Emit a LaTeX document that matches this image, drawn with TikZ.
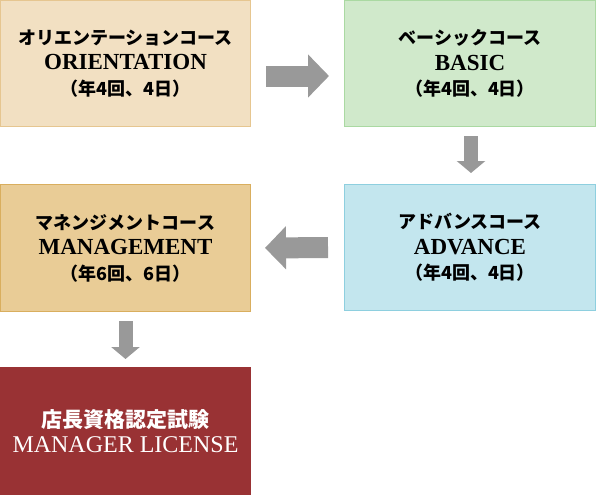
\documentclass[tikz,border=0pt]{standalone}
\usepackage{fontspec}
\setmainfont{Liberation Serif}
\newfontfamily\jpfont{Noto Sans CJK JP}
\usepackage{xcolor}
\usepackage{tikz}
\usetikzlibrary{arrows.meta}
\definecolor{orientfill}{HTML}{F2E0C2}
\definecolor{orientline}{HTML}{E6C690}
\definecolor{basicfill}{HTML}{D0E9CB}
\definecolor{basicline}{HTML}{AAD9A2}
\definecolor{advfill}{HTML}{C3E6EE}
\definecolor{advline}{HTML}{8ECFDF}
\definecolor{mgmtfill}{HTML}{E9CC96}
\definecolor{mgmtline}{HTML}{D9AE5E}
\definecolor{licfill}{HTML}{993234}
\colorlet{flowgray}{black!40}
\newcommand{\jp}{\jpfont\bfseries\fontsize{18}{25.5}\selectfont}
\newcommand{\en}{\bfseries\fontsize{23}{25.5}\selectfont}

\begin{document}
\begin{tikzpicture}[
x=1pt, y=-1pt,
CourseBox/.style={draw, line width=1pt, minimum width=250pt, minimum height=126pt, inner sep=0pt, align=center, font=\fontsize{18}{25.5}\selectfont},
FlowSide/.style={draw=flowgray, line width=21pt, -{Triangle[width=42pt, length=21pt]}},
FlowDown/.style={draw=flowgray, line width=14pt, -{Triangle[width=28pt, length=12pt]}}
]
\useasboundingbox (0,0) rectangle (596,495);

% the five steps
\node[CourseBox, fill=orientfill, draw=orientline] (orient) at (125.5,63.5)
{{\jp オリエンテーションコース}\\{\en ORIENTATION}\\{\jp （年4回、4日）}};
\node[CourseBox, fill=basicfill, draw=basicline, minimum width=251pt] (basic) at (470,63.5)
{{\jp ベーシックコース}\\{\en BASIC}\\{\jp （年4回、4日）}};
\node[CourseBox, fill=advfill, draw=advline, minimum width=251pt] (advance) at (470,247.5)
{{\jp アドバンスコース}\\{\en ADVANCE}\\{\jp （年4回、4日）}};
\node[CourseBox, fill=mgmtfill, draw=mgmtline, minimum height=127pt] (mgmt) at (125.5,248)
{{\jp マネンジメントコース}\\{\en MANAGEMENT}\\{\jp （年6回、6日）}};
\node[CourseBox, fill=licfill, draw=licfill, minimum height=127pt, text=white] (license) at (125.5,431)
{{\jpfont\bfseries\fontsize{21}{25}\selectfont 店長資格認定試験}\\{\fontsize{24}{25}\selectfont MANAGER LICENSE}};

% arrows between the steps
\draw[FlowSide, shorten <=15pt, shorten >=15pt] ([yshift=-12.5pt]orient.east) -- ([yshift=-12.5pt]basic.west);
\draw[FlowDown, shorten <=9pt, shorten >=11pt] ([xshift=1pt]basic.south) -- ([xshift=1pt]advance.north);
\draw[FlowSide, shorten <=16pt, shorten >=14pt] (advance.west) -- (mgmt.east);
\draw[FlowDown, shorten <=9pt, shorten >=8pt] (mgmt.south) -- (license.north);

\end{tikzpicture}
\end{document}
